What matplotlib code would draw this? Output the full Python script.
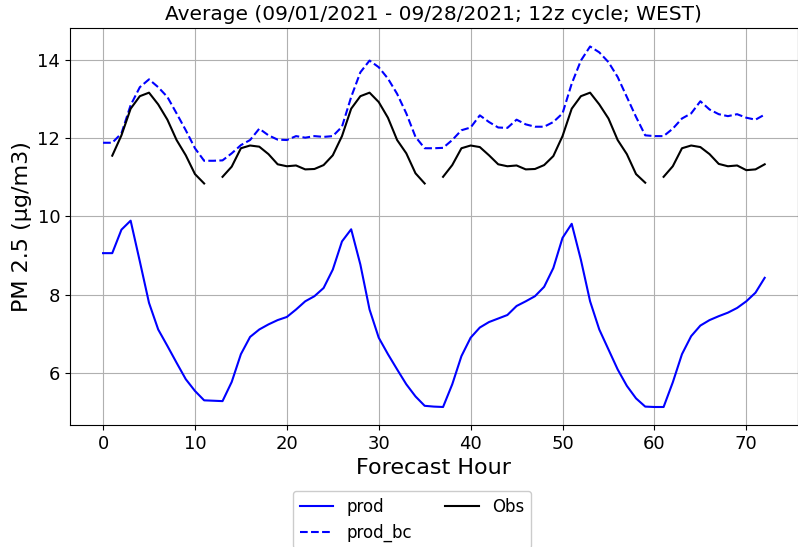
import numpy as np
import matplotlib
matplotlib.use('Agg')
from matplotlib import pyplot as plt

hours = np.arange(73)

prod = [
    9.06, 9.06, 9.66, 9.89, 8.85, 7.79, 7.11, 6.69, 6.26, 5.84,
    5.54, 5.30, 5.29, 5.28, 5.77, 6.48, 6.92, 7.11, 7.24, 7.35,
    7.43, 7.62, 7.83, 7.96, 8.17, 8.64, 9.36, 9.67, 8.77, 7.62,
    6.90, 6.48, 6.09, 5.71, 5.40, 5.16, 5.14, 5.13, 5.71, 6.43,
    6.90, 7.16, 7.30, 7.39, 7.48, 7.71, 7.83, 7.96, 8.20, 8.68,
    9.45, 9.81, 8.89, 7.83, 7.11, 6.60, 6.09, 5.67, 5.35, 5.14,
    5.13, 5.13, 5.76, 6.48, 6.94, 7.21, 7.35, 7.45, 7.54, 7.66,
    7.83, 8.05, 8.43,
]

prod_bc = [
    11.88, 11.88, 12.12, 12.84, 13.30, 13.50, 13.30, 13.05, 12.63, 12.20,
    11.74, 11.42, 11.42, 11.43, 11.61, 11.82, 11.95, 12.24, 12.07, 11.96,
    11.95, 12.05, 12.01, 12.05, 12.03, 12.05, 12.29, 13.05, 13.68, 13.98,
    13.81, 13.52, 13.13, 12.63, 12.03, 11.74, 11.74, 11.75, 11.95, 12.20,
    12.27, 12.58, 12.41, 12.27, 12.26, 12.47, 12.35, 12.29, 12.29, 12.41,
    12.63, 13.39, 13.98, 14.34, 14.19, 13.94, 13.56, 13.05, 12.54, 12.07,
    12.05, 12.05, 12.24, 12.50, 12.63, 12.94, 12.73, 12.61, 12.56, 12.61,
    12.52, 12.47, 12.60,
]

nan = np.nan
obs = [
    nan, 11.55, 12.07, 12.75, 13.07, 13.16, 12.86, 12.47, 11.95, 11.56,
    11.08, 10.84, nan, 11.01, 11.27, 11.74, 11.81, 11.78, 11.59, 11.33,
    11.28, 11.30, 11.20, 11.21, 11.31, 11.56, 12.05, 12.75, 13.07, 13.16,
    12.92, 12.52, 11.95, 11.61, 11.10, 10.84, nan, 11.01, 11.31, 11.74,
    11.81, 11.77, 11.56, 11.33, 11.28, 11.30, 11.20, 11.21, 11.31, 11.54,
    12.05, 12.75, 13.07, 13.16, 12.86, 12.50, 11.95, 11.59, 11.08, 10.86,
    nan, 11.01, 11.28, 11.74, 11.81, 11.77, 11.59, 11.34, 11.28, 11.30,
    11.18, 11.20, 11.33,
]

TITLE = 'Average (09/01/2021 - 09/28/2021; 12z cycle; WEST)'

fig = plt.figure(figsize=(7.98, 5.47), dpi=100)
ax = fig.add_axes([0.0877, 0.223, 0.912, 0.725])

ax.plot(hours, prod, color='blue', lw=1.5, label='prod')
ax.plot(hours, prod_bc, color='blue', ls='--', lw=1.5, label='prod_bc')
ax.plot(hours, obs, color='black', lw=1.5, label='Obs')

ax.grid(True, color='#b0b0b0', lw=0.8)
ax.set_axisbelow(True)
ax.set_title(TITLE, fontsize=14.5)
ax.set_xlabel('Forecast Hour', fontsize=16)
ax.set_ylabel('PM 2.5 (μg/m3)', fontsize=16)
ax.tick_params(labelsize=13)
ax.set_yticks([6, 8, 10, 12, 14])

ax.legend(
    loc='upper center',
    bbox_to_anchor=(0.47, -0.145),
    ncol=2,
    fontsize=12,
    framealpha=1.,
)

fig.savefig('out.png', dpi=100)
